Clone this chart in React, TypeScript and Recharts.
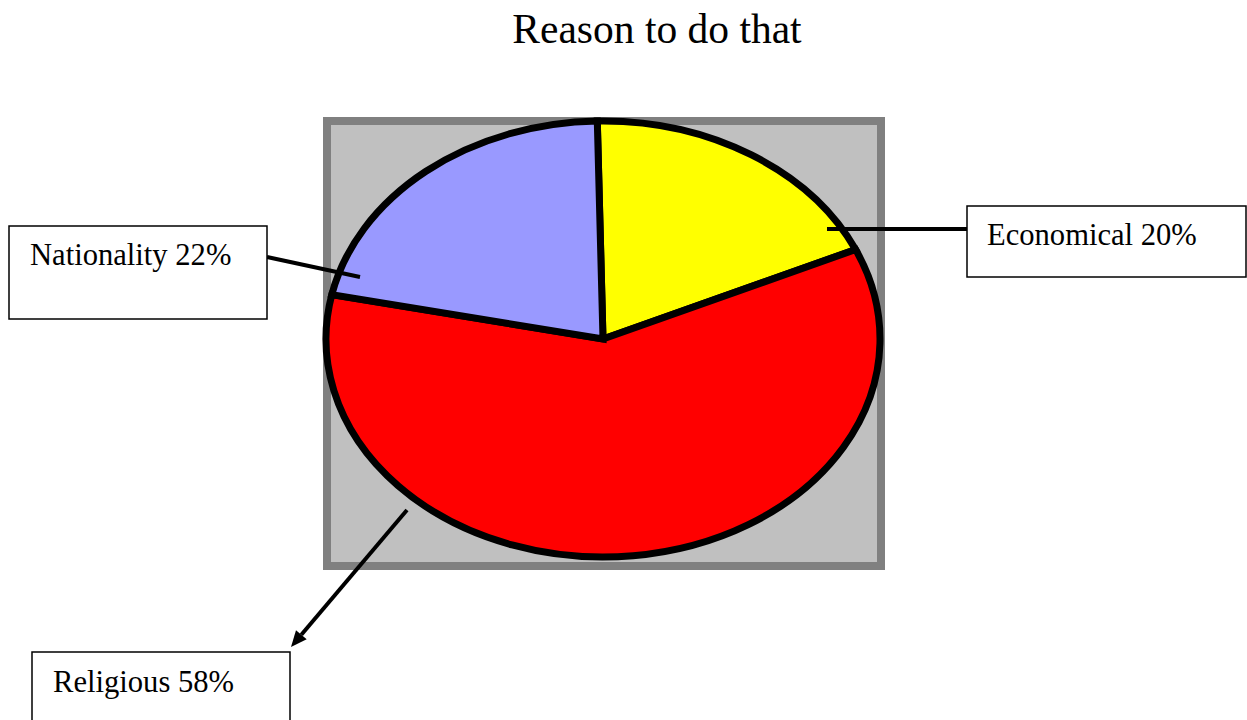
import React from 'react';
import { PieChart, Pie, Cell, Customized } from 'recharts';

const title = 'Reason to do that';
const categories = ['Economical', 'Religious', 'Nationality'];
const values = [20, 58, 22];
const colors = ['#FFFF00', '#FF0000', '#9999FF'];

const data = categories.map((name, i) => ({ name, value: values[i] }));

const W = 1247;
const H = 720;
const CX = 603;
const CY = 339;
const RY = 218;
const RX = 277;
const FONT = '"Liberation Serif", "Times New Roman", serif';

// Sector of an ellipse: the angle from Recharts is taken as the visual direction from the centre.
const ellipticalSector = (props: any) => {
  const { cx, cy, outerRadius, startAngle, endAngle, fill } = props;
  const ry = outerRadius;
  const rx = (outerRadius * RX) / RY;
  const rad = Math.PI / 180;
  const pt = (a: number) => {
    const c = Math.cos(a * rad);
    const s = Math.sin(a * rad);
    const r = 1 / Math.sqrt((c * c) / (rx * rx) + (s * s) / (ry * ry));
    return [cx + r * c, cy - r * s];
  };
  const [x1, y1] = pt(startAngle);
  const [x2, y2] = pt(endAngle);
  const delta = Math.abs(startAngle - endAngle);
  const large = delta > 180 ? 1 : 0;
  const sweep = startAngle > endAngle ? 1 : 0;
  const d = `M${cx},${cy} L${x1},${y1} A${rx},${ry} 0 ${large} ${sweep} ${x2},${y2} Z`;
  return <path d={d} fill={fill} stroke="#000" strokeWidth={7} />;
};

type Layout = {
  box: [number, number, number, number];
  text: [number, number];
  line: [[number, number], [number, number]];
  arrow: boolean;
};

const labelLayout: Record<string, Layout> = {
  Economical: { box: [967, 206, 279, 71], text: [987, 245], line: [[827, 229], [967, 229]], arrow: false },
  Nationality: { box: [9, 226, 258, 93], text: [30, 265], line: [[360, 277], [267, 257]], arrow: false },
  Religious: { box: [32, 652, 258, 90], text: [53, 692], line: [[407, 510], [291, 647]], arrow: true },
};

const renderLabel = (props: any) => {
  const name = props.name ?? props.payload?.name;
  const lay = labelLayout[name];
  if (!lay) return null;
  const pct = Math.round((props.percent ?? 0) * 100);
  const [[ax, ay], [bx, by]] = lay.line;
  let arrowHead = null;
  let ex = bx;
  let ey = by;
  if (lay.arrow) {
    const dx = bx - ax;
    const dy = by - ay;
    const len = Math.sqrt(dx * dx + dy * dy);
    const ux = dx / len;
    const uy = dy / len;
    const hl = 16;
    const hw = 7;
    const baseX = bx - ux * hl;
    const baseY = by - uy * hl;
    ex = baseX;
    ey = baseY;
    arrowHead = (
      <polygon
        points={`${bx},${by} ${baseX - uy * hw},${baseY + ux * hw} ${baseX + uy * hw},${baseY - ux * hw}`}
        fill="#000"
      />
    );
  }
  return (
    <g>
      <line x1={ax} y1={ay} x2={ex} y2={ey} stroke="#000" strokeWidth={4} />
      {arrowHead}
      <rect x={lay.box[0]} y={lay.box[1]} width={lay.box[2]} height={lay.box[3]} fill="#fff" stroke="#000" strokeWidth={1.5} />
      <text x={lay.text[0]} y={lay.text[1]} fontFamily={FONT} fontSize={30.6} fill="#000">
        {`${name} ${pct}%`}
      </text>
    </g>
  );
};

const Background = () => (
  <g>
    <rect x={327} y={121} width={554} height={445} fill="#C0C0C0" stroke="#808080" strokeWidth={8} />
    <text x={657} y={43} textAnchor="middle" fontFamily={FONT} fontSize={41.5} fill="#000">
      {title}
    </text>
  </g>
);

export default function App() {
  return (
    <div style={{ position: 'absolute', left: 0, top: 0, width: W, height: H, background: '#fff' }}>
      <PieChart width={W} height={H} margin={{ top: 0, right: 0, bottom: 0, left: 0 }}>
        <Customized component={Background} />
        <Pie
          data={data}
          dataKey="value"
          nameKey="name"
          cx={CX}
          cy={CY}
          outerRadius={RY}
          startAngle={91.5}
          endAngle={-268.5}
          isAnimationActive={false}
          shape={ellipticalSector}
          label={renderLabel}
          labelLine={false}
          stroke="#000"
        >
          {data.map((d, i) => (
            <Cell key={d.name} fill={colors[i]} />
          ))}
        </Pie>
      </PieChart>
    </div>
  );
}
